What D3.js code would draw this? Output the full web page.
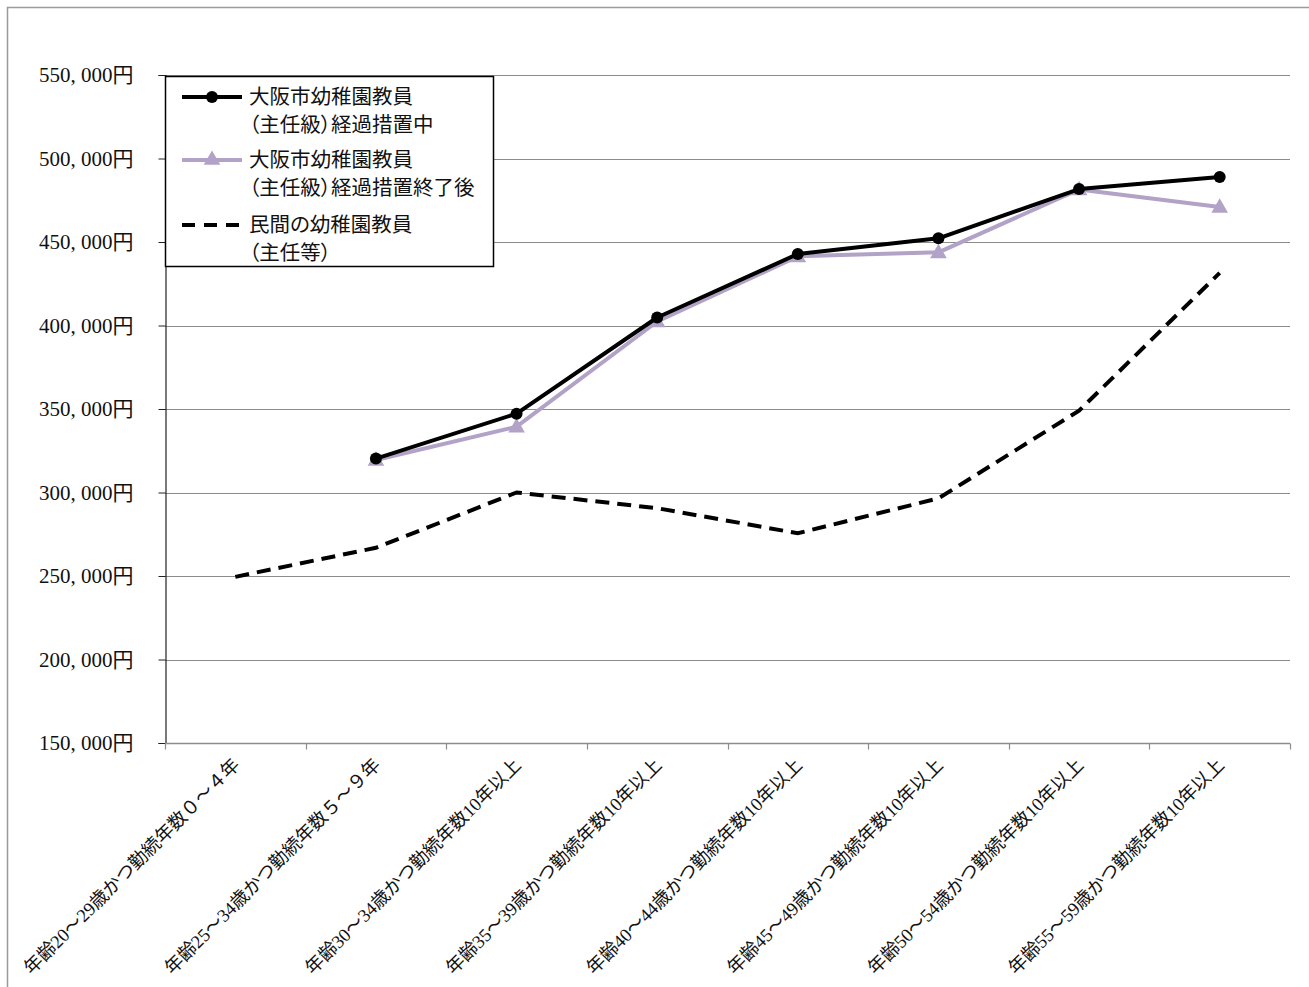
<!DOCTYPE html>
<html>
<head>
<meta charset="utf-8">
<script src="https://cdn.jsdelivr.net/npm/d3@7"></script>
<style>
  html, body { margin: 0; padding: 0; background: #fff; }
  svg { display: block; }
</style>
</head>
<body>
<svg id="chart" width="1309" height="987"></svg>
<script>
const categories = [
  "年齢20〜29歳かつ勤続年数０〜４年",
  "年齢25〜34歳かつ勤続年数５〜９年",
  "年齢30〜34歳かつ勤続年数10年以上",
  "年齢35〜39歳かつ勤続年数10年以上",
  "年齢40〜44歳かつ勤続年数10年以上",
  "年齢45〜49歳かつ勤続年数10年以上",
  "年齢50〜54歳かつ勤続年数10年以上",
  "年齢55〜59歳かつ勤続年数10年以上"
];
const osakaTransition = [null, 320300, 347200, 404800, 442800, 452200, 481700, 488900];
const osakaAfter      = [null, 319500, 339400, 402400, 441400, 443800, 481500, 471000];
const privateChief    = [249500, 266900, 300000, 290600, 275600, 296500, 349000, 431500];
const yTicks = [150000, 200000, 250000, 300000, 350000, 400000, 450000, 500000, 550000];
const legendLabels = [
  ["大阪市幼稚園教員", "（主任級）経過措置中"],
  ["大阪市幼稚園教員", "（主任級）経過措置終了後"],
  ["民間の幼稚園教員", "（主任等）"]
];

(function () {
const svg = d3.select("#chart");
const pLeft = 165, pRight = 1290, pTop = 75, pBottom = 743;
const serif = "'Liberation Serif', 'DejaVu Serif', 'Noto Sans CJK JP', serif";
const sans = "'Noto Sans CJK JP', 'Noto Sans', sans-serif";

// outer chart border
svg.append("path")
  .attr("d", "M7.5,1000 L7.5,7.5 L1320,7.5")
  .attr("fill", "none").attr("stroke", "#9a9a9a").attr("stroke-width", 1.5);

const x = d3.scaleBand().domain(d3.range(categories.length)).range([pLeft, pRight]);
const y = d3.scaleLinear().domain([150000, 550000]).range([pBottom, pTop]);

// gridlines
svg.append("g").selectAll("line").data(yTicks.slice(1)).join("line")
  .attr("x1", pLeft).attr("x2", pRight)
  .attr("y1", d => Math.round(y(d)) + 0.5).attr("y2", d => Math.round(y(d)) + 0.5)
  .attr("stroke", "#8c8c8c").attr("stroke-width", 1.2);

// y axis
const yAxis = svg.append("g").attr("transform", `translate(${pLeft + 0.5},0)`)
  .call(d3.axisLeft(y).tickValues(yTicks).tickSize(7).tickPadding(25)
    .tickFormat(d => d3.format(",")(d).replace(",", ", ") + "円"));
yAxis.select(".domain").attr("stroke", "#222").attr("stroke-width", 1.2);
yAxis.selectAll(".tick line").attr("stroke", "#222");
yAxis.selectAll("text").attr("font-family", serif).attr("font-size", 21).attr("fill", "#111");

// x axis
const xAxis = svg.append("g").attr("transform", `translate(0,${pBottom + 0.5})`);
xAxis.append("line").attr("x1", pLeft).attr("x2", pRight).attr("stroke", "#8c8c8c").attr("stroke-width", 1.5);
const bounds = d3.range(categories.length + 1).map(i => i < categories.length ? x(i) : x(i - 1) + x.bandwidth());
xAxis.selectAll("line.tk").data(bounds).join("line").attr("class", "tk")
  .attr("x1", d => Math.round(d) + 0.5).attr("x2", d => Math.round(d) + 0.5)
  .attr("y1", 0).attr("y2", 6).attr("stroke", "#8c8c8c").attr("stroke-width", 1.2);
xAxis.selectAll("text").data(categories).join("text")
  .attr("transform", (d, i) => `translate(${x(i) + x.bandwidth() / 2 + 1},${18}) rotate(-45)`)
  .attr("text-anchor", "end")
  .attr("dy", "0.35em")
  .attr("font-family", serif).attr("font-size", 18.5).attr("fill", "#111")
  .text(d => d);

const cx = i => x(i) + x.bandwidth() / 2;
function path(vals) {
  return d3.line().defined(d => d.v != null).x(d => cx(d.i)).y(d => y(d.v))(vals.map((v, i) => ({v, i})));
}

// private dashed
svg.append("path").attr("d", path(privateChief))
  .attr("fill", "none").attr("stroke", "#000").attr("stroke-width", 4)
  .attr("stroke-dasharray", "14,8");

// purple after
svg.append("path").attr("d", path(osakaAfter))
  .attr("fill", "none").attr("stroke", "#b3a2c7").attr("stroke-width", 4).attr("stroke-linejoin", "round");
const tri = d3.symbol().type(d3.symbolTriangle).size(120);
svg.append("g").selectAll("path").data(osakaAfter.map((v, i) => ({v, i})).filter(d => d.v != null)).join("path")
  .attr("d", tri).attr("transform", d => `translate(${cx(d.i)},${y(d.v) + 1})`)
  .attr("fill", "#b3a2c7");

// black transition
svg.append("path").attr("d", path(osakaTransition))
  .attr("fill", "none").attr("stroke", "#000").attr("stroke-width", 4).attr("stroke-linejoin", "round");
svg.append("g").selectAll("circle").data(osakaTransition.map((v, i) => ({v, i})).filter(d => d.v != null)).join("circle")
  .attr("cx", d => cx(d.i)).attr("cy", d => y(d.v)).attr("r", 6).attr("fill", "#000");

// legend
const lg = svg.append("g");
lg.append("rect").attr("x", 165.5).attr("y", 76.5).attr("width", 328).attr("height", 190)
  .attr("fill", "#fff").attr("stroke", "#000").attr("stroke-width", 1.5);
const rows = [97, 160, 225];
lg.append("line").attr("x1", 182).attr("x2", 242).attr("y1", rows[0]).attr("y2", rows[0])
  .attr("stroke", "#000").attr("stroke-width", 4);
lg.append("circle").attr("cx", 212).attr("cy", rows[0]).attr("r", 6).attr("fill", "#000");
lg.append("line").attr("x1", 182).attr("x2", 242).attr("y1", rows[1]).attr("y2", rows[1])
  .attr("stroke", "#b3a2c7").attr("stroke-width", 4);
lg.append("path").attr("d", tri).attr("transform", `translate(212,${rows[1]})`).attr("fill", "#b3a2c7");
lg.append("line").attr("x1", 182).attr("x2", 240).attr("y1", rows[2]).attr("y2", rows[2])
  .attr("stroke", "#000").attr("stroke-width", 4).attr("stroke-dasharray", "13,9");

legendLabels.forEach((lbl, k) => {
  lbl.forEach((t, j) => {
    lg.append("text").attr("x", 249).attr("y", rows[k] + j * 28).attr("dy", "0.36em")
      .attr("font-family", sans).attr("font-size", 20.5).attr("fill", "#111")
      .style("font-feature-settings", "'palt'")
      .text(t);
  });
});
})();
</script>
</body>
</html>
